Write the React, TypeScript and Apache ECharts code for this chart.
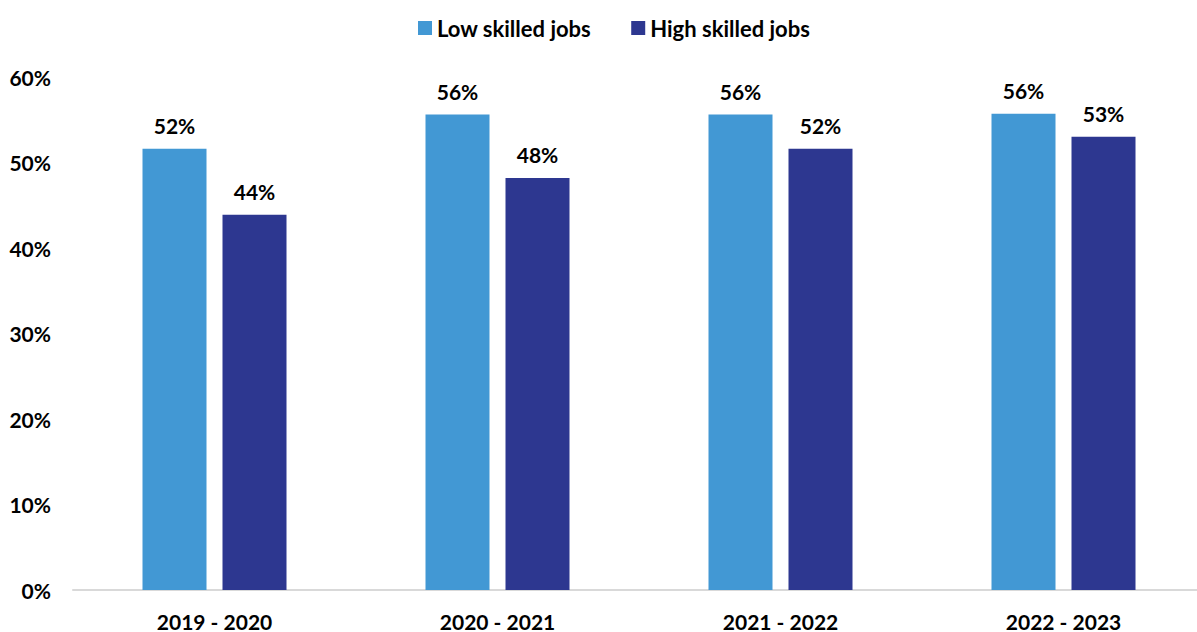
import React, { useEffect, useRef } from "react";
import * as echarts from "echarts";

const categories = ["2019 - 2020", "2020 - 2021", "2021 - 2022", "2022 - 2023"];
const lowSkilled = [51.6, 55.6, 55.6, 55.7];
const highSkilled = [43.9, 48.2, 51.6, 53.0];
const seriesNames = ["Low skilled jobs", "High skilled jobs"];

const FONT = "Lato";

export default function App() {
  const ref = useRef<HTMLDivElement>(null);
  useEffect(() => {
    if (!ref.current) return;
    const chart = echarts.init(ref.current, null, { renderer: "svg" });
    const label = {
      show: true,
      position: "top",
      distance: 13,
      formatter: (p: any) => Math.round(p.value) + "%",
      fontFamily: FONT,
      fontWeight: "bold",
      fontSize: 21,
      color: "#000",
    };
    chart.setOption({
      animation: false,
      textStyle: { fontFamily: FONT },
      legend: {
        top: 12,
        left: 413,
        itemWidth: 14,
        itemHeight: 14,
        itemGap: 40,
        icon: "rect",
        textStyle: { fontFamily: FONT, fontWeight: "bold", fontSize: 22, color: "#000" },
        data: seriesNames,
      },
      grid: { left: 73, width: 1132, top: 77, bottom: 40, containLabel: false },
      xAxis: {
        type: "category",
        data: categories,
        axisLine: { show: true, lineStyle: { color: "#d9d9d9", width: 2 } },
        axisTick: { show: false },
        axisLabel: {
          fontFamily: FONT,
          fontWeight: "bold",
          fontSize: 21,
          lineHeight: 22,
          color: "#000",
          margin: 20,
        },
      },
      yAxis: {
        type: "value",
        min: 0,
        max: 60,
        interval: 10,
        splitLine: { show: false },
        axisLine: { show: false },
        axisTick: { show: false },
        axisLabel: {
          formatter: (v: number) => v + "%",
          fontFamily: FONT,
          fontWeight: "bold",
          fontSize: 21,
          color: "#000",
          margin: 22,
        },
      },
      series: [
        {
          name: seriesNames[0],
          type: "bar",
          data: lowSkilled,
          barWidth: 64,
          barGap: "25%",
          itemStyle: { color: "#4298D4" },
          label,
        },
        {
          name: seriesNames[1],
          type: "bar",
          data: highSkilled,
          barWidth: 64,
          barGap: "25%",
          itemStyle: { color: "#2D3790" },
          label,
        },
      ],
    });
    return () => chart.dispose();
  }, []);
  return (
    <div
      style={{
        position: "absolute",
        left: 0,
        top: 0,
        width: 1197,
        height: 632,
        overflow: "hidden",
        background: "#fff",
      }}
    >
      <div ref={ref} style={{ width: 1210, height: 632 }} />
    </div>
  );
}
